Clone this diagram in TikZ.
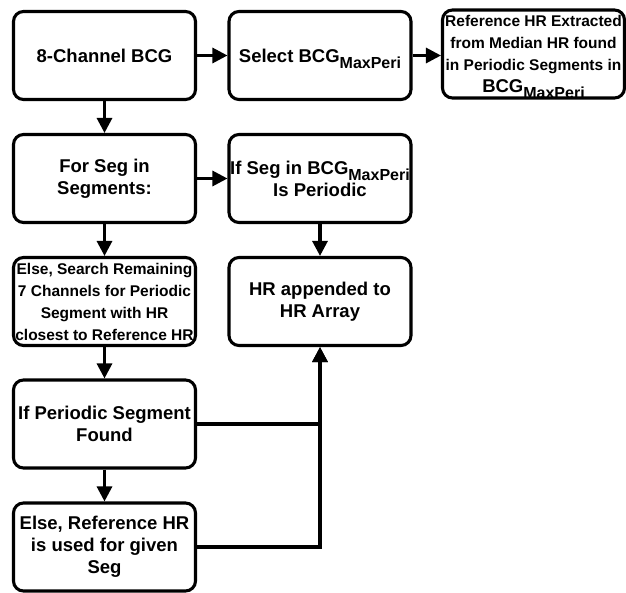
\documentclass[tikz,border=0pt]{standalone}
\usepackage{fontspec}
\setmainfont{Liberation Sans}
\usetikzlibrary{arrows.meta}

% lowered subscript as in the reference
\newcommand{\maxperi}{\raisebox{-6pt}[0pt][0pt]{\fontsize{16}{16}\selectfont MaxPeri}}

\begin{document}
\begin{tikzpicture}[x=1pt, y=-1pt,
		box/.style={draw, line width=3.1pt, rounded corners=10pt, minimum width=182pt, minimum height=88pt, align=center, inner sep=1pt, font=\bfseries\fontsize{18.5}{22}\selectfont},
		small/.style={font=\bfseries\fontsize{15.5}{22}\selectfont},
		flow/.style={line width=3.1pt, -{Triangle[length=15pt,width=15pt]}}]
		
		\useasboundingbox (0,0) rectangle (626,593);
		
		% Top row
		\node[box] (bcg) at (104.5,55.5) {8-Channel BCG};
		\node[box] (select) at (320,55.5) {Select BCG\maxperi};
		\node[box, small] (ref) at (533.5,54) {Reference HR Extracted\\from Median HR found\\in Periodic Segments in\\{\fontsize{18.5}{22}\selectfont BCG\maxperi}};
		
		% Segment loop
		\node[box] (loop) at (104.5,178.5) {For Seg in\\Segments:};
		\node[box] (check) at (320,178.5) {If Seg in BCG\maxperi\\Is Periodic};
		
		% Search other channels
		\node[box, small] (search) at (104.5,301.5) {Else, Search Remaining\\7 Channels for Periodic\\Segment with HR\\closest to Reference HR};
		\node[box] (append) at (320,301.5) {HR appended to\\HR Array};
		
		\node[box] (found) at (104.5,424) {If Periodic Segment\\Found};
		\node[box] (fallback) at (104.5,547) {Else, Reference HR\\is used for given\\Seg};
		
		% Connectors
		\draw[flow] (bcg) -- (select);
		\draw[flow] (select) -- (ref.west |- select);
		\draw[flow] (bcg) -- (loop);
		\draw[flow] (loop) -- (check);
		\draw[flow] (check) -- (append);
		\draw[flow] (loop) -- (search);
		\draw[flow] (search) -- (found);
		\draw[flow] (found) -- (fallback);
		\draw[flow] (found.east) -| (append.south);
		\draw[flow] (fallback.east) -| (append.south);
		
	\end{tikzpicture}
\end{document}
